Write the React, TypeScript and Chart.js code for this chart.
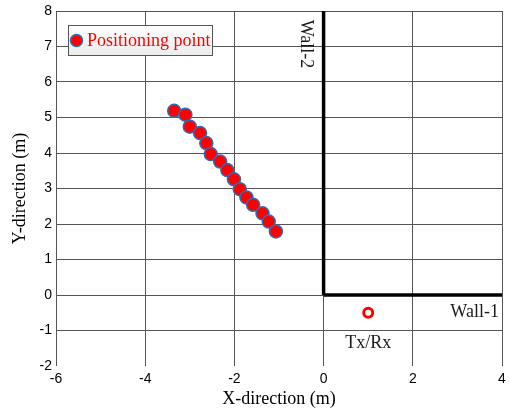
import React, { useEffect, useRef } from "react";
import { Chart, registerables } from "chart.js";

Chart.register(...registerables);

// Estimated positions along the walking track (metres)
const pointX = [-3.35, -3.1, -3.0, -2.77, -2.63, -2.53, -2.32, -2.16, -2.01, -1.88, -1.73, -1.58, -1.37, -1.23, -1.07];
const pointY = [5.19, 5.08, 4.74, 4.56, 4.28, 3.97, 3.76, 3.52, 3.26, 2.98, 2.75, 2.54, 2.3, 2.07, 1.79];

// Transceiver location
const txrxX = [1];
const txrxY = [-0.5];

// Walls
const wall1X = [0, 4];
const wall1Y = [0, 0];
const wall2X = [0, 0];
const wall2Y = [0, 8];

const xTicks = [-6, -4, -2, 0, 2, 4];
const yTicks = [-2, -1, 0, 1, 2, 3, 4, 5, 6, 7, 8];

const legendLabel = "Positioning point";
const serif = "'Liberation Serif', 'Times New Roman', serif";
const sans = "'Liberation Sans', Arial, sans-serif";

const toXY = (xs: number[], ys: number[]) => xs.map((x, i) => ({ x, y: ys[i] }));

const annotations = {
  id: "annotations",
  afterDatasetsDraw(chart: any) {
    const { ctx, chartArea, scales } = chart;
    const xs = scales.x;
    const ys = scales.y;
    ctx.save();
    ctx.fillStyle = "#1a1a1a";
    ctx.font = `18px ${serif}`;
    ctx.textBaseline = "middle";

    // Wall-2, rotated along the vertical wall
    ctx.save();
    ctx.translate(xs.getPixelForValue(-0.4), ys.getPixelForValue(7.07));
    ctx.rotate(Math.PI / 2);
    ctx.textAlign = "center";
    ctx.fillText("Wall-2", 0, 0);
    ctx.restore();

    ctx.textAlign = "right";
    ctx.fillText("Wall-1", xs.getPixelForValue(3.93), ys.getPixelForValue(-0.48));

    ctx.textAlign = "center";
    ctx.fillText("Tx/Rx", xs.getPixelForValue(1), ys.getPixelForValue(-1.35));

    // Legend box
    const bx = chartArea.left + 12;
    const by = chartArea.top + 14;
    const bw = 144;
    const bh = 30;
    const grad = ctx.createLinearGradient(0, by, 0, by + bh);
    grad.addColorStop(0, "#ffffff");
    grad.addColorStop(1, "#ececec");
    ctx.fillStyle = grad;
    ctx.fillRect(bx, by, bw, bh);
    ctx.strokeStyle = "#555555";
    ctx.lineWidth = 1;
    ctx.strokeRect(bx + 0.5, by + 0.5, bw, bh);

    ctx.beginPath();
    ctx.arc(bx + 8.5, by + 15.5, 6, 0, Math.PI * 2);
    ctx.fillStyle = "#ff0000";
    ctx.fill();
    ctx.lineWidth = 1.5;
    ctx.strokeStyle = "#2e6db4";
    ctx.stroke();

    ctx.fillStyle = "#ff0000";
    ctx.font = `18px ${serif}`;
    ctx.textAlign = "left";
    ctx.fillText(legendLabel, bx + 19, by + 16);
    ctx.restore();
  },
};

export default function App() {
  const canvasRef = useRef<HTMLCanvasElement | null>(null);

  useEffect(() => {
    if (!canvasRef.current) return;
    const chart = new Chart(canvasRef.current, {
      type: "scatter",
      data: {
        datasets: [
          {
            label: "Wall-2",
            data: toXY(wall2X, wall2Y),
            showLine: true,
            borderColor: "#000000",
            borderWidth: 3.5,
            pointRadius: 0,
          },
          {
            label: "Wall-1",
            data: toXY(wall1X, wall1Y),
            showLine: true,
            borderColor: "#000000",
            borderWidth: 3.5,
            pointRadius: 0,
          },
          {
            label: legendLabel,
            data: toXY(pointX, pointY),
            backgroundColor: "#ff0000",
            borderColor: "#2e6db4",
            borderWidth: 1.5,
            pointRadius: 6.5,
          },
          {
            label: "Tx/Rx",
            data: toXY(txrxX, txrxY),
            backgroundColor: "#ffffff",
            borderColor: "#ff0000",
            borderWidth: 3,
            pointRadius: 4.5,
          },
        ],
      },
      options: {
        animation: false,
        responsive: false,
        maintainAspectRatio: false,
        layout: { padding: { top: 11, right: 5, left: 0, bottom: 0 } },
        plugins: {
          legend: { display: false },
          tooltip: { enabled: false },
        },
        scales: {
          x: {
            type: "linear",
            min: -6,
            max: 4,
            afterBuildTicks: (s: any) => {
              s.ticks = xTicks.map((v) => ({ value: v }));
            },
            afterFit: (s: any) => {
              s.height = 45;
              s.paddingLeft = 0;
              s.paddingRight = 0;
            },
            border: { display: false },
            grid: { color: "#555555", lineWidth: 1, drawTicks: false },
            ticks: {
              color: "#000000",
              font: { family: sans, size: 14 },
              padding: 5,
              maxRotation: 0,
            },
            title: {
              display: true,
              text: "X-direction (m)",
              color: "#000000",
              font: { family: serif, size: 18 },
              padding: { top: 0, bottom: 1 },
            },
          },
          y: {
            type: "linear",
            min: -2,
            max: 8,
            afterBuildTicks: (s: any) => {
              s.ticks = yTicks.map((v) => ({ value: v }));
            },
            afterFit: (s: any) => {
              s.width = 56;
              s.paddingTop = 0;
              s.paddingBottom = 0;
            },
            border: { display: false },
            grid: {
              color: (c: any) => (c.tick && c.tick.value === -2 ? "rgba(0,0,0,0)" : "#555555"),
              lineWidth: 1,
              drawTicks: false,
            },
            ticks: {
              color: "#000000",
              font: { family: sans, size: 14 },
              padding: 4,
            },
            title: {
              display: true,
              text: "Y-direction (m)",
              color: "#000000",
              font: { family: serif, size: 18 },
              padding: { top: 9, bottom: 0 },
            },
          },
        },
      },
      plugins: [annotations],
    });
    return () => chart.destroy();
  }, []);

  return (
    <div style={{ position: "fixed", left: 0, top: 0, width: 510, height: 411, background: "#ffffff" }}>
      <canvas ref={canvasRef} width={510} height={411} />
    </div>
  );
}
